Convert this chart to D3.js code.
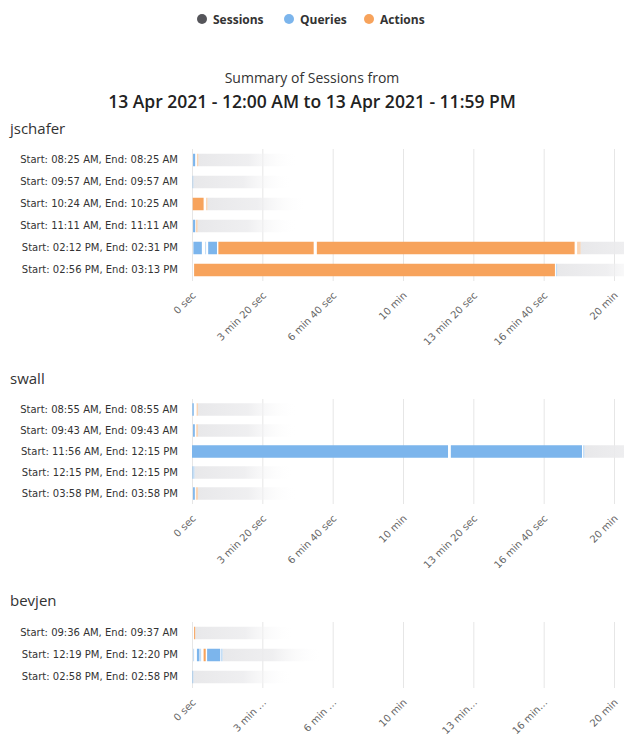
<!DOCTYPE html>
<html>
<head>
<meta charset="utf-8">
<script src="https://cdn.jsdelivr.net/npm/d3@7"></script>
<style>
  body { margin: 0; background: #fff; }
</style>
</head>
<body>
<div id="chart"></div>
<script>
// Légende et titres
const seriesNames = ["Sessions", "Queries", "Actions"];
const seriesColors = ["#55555a", "#7cb5ec", "#f7a35c"];
const titleLine1 = "Summary of Sessions from";
const titleLine2 = "13 Apr 2021 - 12:00 AM to 13 Apr 2021 - 11:59 PM";
const userNames = ["jschafer", "swall", "bevjen"];

// Ticks de l'axe des durées (en secondes)
const tickSeconds = [0, 200, 400, 600, 800, 1000, 1200];

// Sessions par utilisateur : segments [type, début (s), fin (s)]
// Q = query, A = action, q / a = segment bref (affiché en clair)
const jschaferLabels = [
  "Start: 08:25 AM, End: 08:25 AM",
  "Start: 09:57 AM, End: 09:57 AM",
  "Start: 10:24 AM, End: 10:25 AM",
  "Start: 11:11 AM, End: 11:11 AM",
  "Start: 02:12 PM, End: 02:31 PM",
  "Start: 02:56 PM, End: 03:13 PM"
];
const jschaferSegments = [
  [["Q", 3, 9], ["a", 14, 18]],
  [["q", 1, 4]],
  [["A", 2, 33], ["a", 40, 44]],
  [["Q", 3, 9], ["a", 11, 16]],
  [["Q", 4, 28], ["q", 37, 40], ["Q", 46, 71], ["A", 75, 346], ["A", 355, 1088], ["a", 1095, 1105]],
  [["A", 6, 1032], ["q", 1035, 1038]]
];

const swallLabels = [
  "Start: 08:55 AM, End: 08:55 AM",
  "Start: 09:43 AM, End: 09:43 AM",
  "Start: 11:56 AM, End: 12:15 PM",
  "Start: 12:15 PM, End: 12:15 PM",
  "Start: 03:58 PM, End: 03:58 PM"
];
const swallSegments = [
  [["Q", 1, 5], ["a", 13, 17]],
  [["Q", 3, 8], ["a", 12, 17]],
  [["Q", 0, 728], ["Q", 736, 1109], ["q", 1112, 1116]],
  [["q", 0, 7]],
  [["Q", 3, 8], ["a", 11, 17]]
];

const bevjenLabels = [
  "Start: 09:36 AM, End: 09:37 AM",
  "Start: 12:19 PM, End: 12:20 PM",
  "Start: 02:58 PM, End: 02:58 PM"
];
const bevjenSegments = [
  [["A", 6, 9]],
  [["q", 3, 6], ["Q", 14, 21], ["q", 22, 26], ["A", 33, 39], ["Q", 43, 80], ["q", 82, 87]],
  [["q", 0, 4]]
];

const width = 624;
const height = 743;
const labelFont = "'DejaVu Sans', Verdana, sans-serif";
const uiFont = "'Open Sans', 'Noto Sans', sans-serif";

const svg = d3.select("#chart")
  .append("svg")
  .attr("width", width)
  .attr("height", height);

// Dégradé gris pour la traîne des sessions
const fade = svg.append("defs").append("linearGradient")
  .attr("id", "fade")
  .attr("x1", "0%").attr("x2", "100%").attr("y1", "0%").attr("y2", "0%");
fade.append("stop").attr("offset", "0%").attr("stop-color", "#e8e8ea").attr("stop-opacity", 1);
fade.append("stop").attr("offset", "50%").attr("stop-color", "#ececee").attr("stop-opacity", 0.85);
fade.append("stop").attr("offset", "100%").attr("stop-color", "#ffffff").attr("stop-opacity", 0);

// Légende
const legendX = [202, 289, 369];
const legend = svg.append("g");
seriesNames.forEach((name, i) => {
  legend.append("circle")
    .attr("cx", legendX[i]).attr("cy", 19).attr("r", 5)
    .attr("fill", seriesColors[i]);
  legend.append("text")
    .attr("x", legendX[i] + 11).attr("y", 23.5)
    .attr("font-family", uiFont).attr("font-size", "12px").attr("font-weight", "bold")
    .attr("fill", "#333")
    .text(name);
});

// Titre
svg.append("text")
  .attr("x", width / 2).attr("y", 83)
  .attr("text-anchor", "middle")
  .attr("font-family", uiFont).attr("font-size", "14px")
  .attr("fill", "#333")
  .text(titleLine1);
svg.append("text")
  .attr("x", width / 2).attr("y", 108)
  .attr("text-anchor", "middle")
  .attr("font-family", uiFont).attr("font-size", "17.5px").attr("font-weight", 600)
  .attr("fill", "#222")
  .text(titleLine2);

// Échelle horizontale commune
const x = d3.scaleLinear().domain([0, 1200]).range([192, 614]);

function formatDuration(s) {
  const m = Math.floor(s / 60), sec = s % 60;
  if (m === 0) return `${sec} sec`;
  if (sec === 0) return `${m} min`;
  return `${m} min ${sec} sec`;
}

const colorOf = { Q: seriesColors[1], A: seriesColors[2], q: seriesColors[1], a: seriesColors[2] };

const blocks = [
  { name: userNames[0], labels: jschaferLabels, segs: jschaferSegments, titleY: 134, top: 149, step: 22, maxChars: 0 },
  { name: userNames[1], labels: swallLabels, segs: swallSegments, titleY: 384, top: 399, step: 21, maxChars: 0 },
  { name: userNames[2], labels: bevjenLabels, segs: bevjenSegments, titleY: 606, top: 622, step: 22, maxChars: 6 }
];

const barH = 12.5;
const fadeWidth = 100;

blocks.forEach(b => {
  const bottom = b.top + b.labels.length * b.step;
  const y = d3.scaleBand().domain(b.labels).range([b.top, bottom]);
  const g = svg.append("g");

  // Nom de l'utilisateur
  g.append("text")
    .attr("x", 10).attr("y", b.titleY)
    .attr("font-family", uiFont).attr("font-size", "15px")
    .attr("fill", "#333")
    .text(b.name);

  // Grille verticale
  const grid = g.append("g")
    .attr("transform", `translate(0,${bottom})`)
    .call(d3.axisBottom(x).tickValues(tickSeconds).tickSize(-(bottom - b.top)).tickFormat(""));
  grid.select(".domain").remove();
  grid.selectAll("line").attr("stroke", "#e6e6e6");

  // Traînes grises
  g.append("g")
    .selectAll("rect")
    .data(b.segs)
    .enter().append("rect")
    .attr("x", (d, i) => x(d[d.length - 1][2]))
    .attr("y", (d, i) => y(b.labels[i]) + (b.step - barH) / 2)
    .attr("width", fadeWidth)
    .attr("height", barH)
    .attr("fill", "url(#fade)");

  // Segments queries / actions
  b.segs.forEach((row, i) => {
    g.append("g")
      .selectAll("rect")
      .data(row)
      .enter().append("rect")
      .attr("x", d => x(d[1]))
      .attr("y", y(b.labels[i]) + (b.step - barH) / 2)
      .attr("width", d => Math.max(1, x(d[2]) - x(d[1])))
      .attr("height", barH)
      .attr("fill", d => colorOf[d[0]])
      .attr("fill-opacity", d => (d[0] === "q" || d[0] === "a") ? 0.45 : 1);
  });

  // Libellés des sessions
  const rowAxis = g.append("g")
    .attr("transform", `translate(${x(0)},0)`)
    .call(d3.axisLeft(y).tickSize(0).tickPadding(14));
  rowAxis.select(".domain").remove();
  rowAxis.selectAll("text")
    .attr("font-family", labelFont).attr("font-size", "10px")
    .attr("fill", "#333");

  // Libellés de l'axe des durées, inclinés
  const fmt = s => {
    const t = formatDuration(s);
    return (b.maxChars && t.length > b.maxChars) ? t.slice(0, b.maxChars) + "\u2026" : t;
  };
  const xAxis = g.append("g")
    .attr("transform", `translate(0,${bottom})`)
    .call(d3.axisBottom(x).tickValues(tickSeconds).tickSize(0).tickFormat(fmt));
  xAxis.select(".domain").remove();
  xAxis.selectAll("text")
    .attr("x", 0).attr("y", 0).attr("dy", 0)
    .attr("text-anchor", "end")
    .attr("transform", "translate(4,15) rotate(-45)")
    .attr("font-family", labelFont).attr("font-size", "10px")
    .attr("fill", "#666");
});
</script>
</body>
</html>
